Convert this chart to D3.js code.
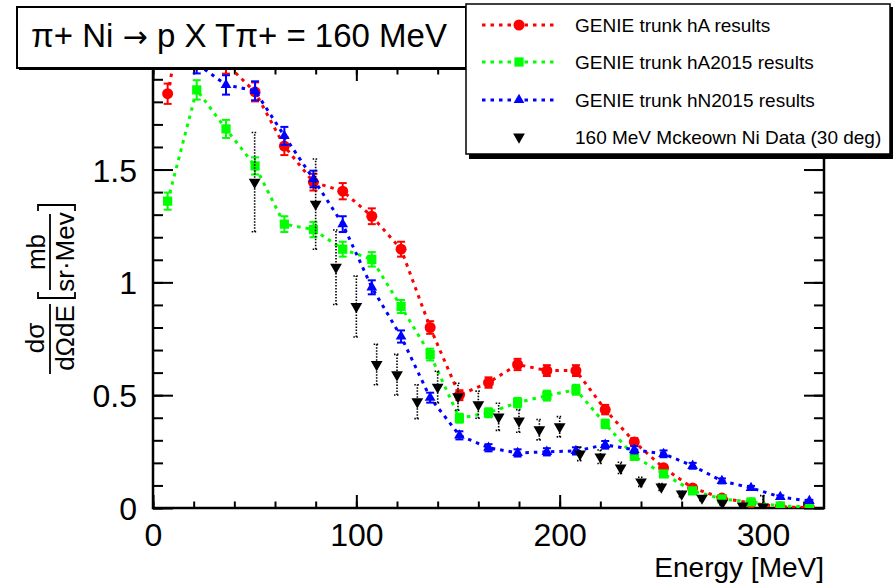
<!DOCTYPE html>
<html>
<head>
<meta charset="utf-8">
<script src="https://cdn.jsdelivr.net/npm/d3@7"></script>
<style>
body { margin: 0; background: #fff; }
text { font-family: "Liberation Sans", Arial, Helvetica, sans-serif; fill: #000; }
</style>
</head>
<body>
<svg id="chart" width="893" height="587"></svg>
<script>
// bin centres of the GENIE histograms (MeV)
var energies = [7.2, 21.5, 35.9, 50.2, 64.6, 78.9, 93.3, 107.6, 122.0, 136.3, 150.7, 165.0,
	179.3, 193.7, 208.0, 222.4, 236.7, 251.1, 265.4, 279.8, 294.1, 308.5, 322.8];

// GENIE trunk hA
var hA = [1.836, 2.5, 1.97, 1.844, 1.604, 1.444, 1.404, 1.293, 1.147, 0.80, 0.50, 0.556,
	0.636, 0.609, 0.609, 0.436, 0.293, 0.178, 0.089, 0.044, 0.022, 0.005, 0.002];
var hAErr = [0.045, 0.05, 0.045, 0.042, 0.04, 0.037, 0.036, 0.035, 0.033, 0.028, 0.022, 0.023,
	0.025, 0.024, 0.024, 0.021, 0.017, 0.013, 0.01, 0.007, 0.005, 0.003, 0.002];

// GENIE trunk hA2015
var hA2015 = [1.36, 1.853, 1.68, 1.516, 1.258, 1.234, 1.147, 1.102, 0.893, 0.68, 0.398, 0.422,
	0.467, 0.498, 0.524, 0.373, 0.229, 0.151, 0.076, 0.04, 0.027, 0.009, 0.005];
var hA2015Err = [0.038, 0.043, 0.04, 0.038, 0.035, 0.034, 0.033, 0.032, 0.029, 0.026, 0.02, 0.02,
	0.021, 0.022, 0.022, 0.019, 0.015, 0.012, 0.009, 0.006, 0.005, 0.003, 0.002];

// GENIE trunk hN2015
var hN2015 = [2.1, 1.97, 1.875, 1.849, 1.649, 1.458, 1.258, 0.978, 0.76, 0.489, 0.322, 0.267,
	0.244, 0.249, 0.253, 0.28, 0.258, 0.24, 0.187, 0.12, 0.089, 0.049, 0.031];
var hN2015Err = [0.045, 0.044, 0.043, 0.042, 0.04, 0.037, 0.035, 0.031, 0.027, 0.022, 0.018, 0.016,
	0.016, 0.016, 0.016, 0.017, 0.016, 0.015, 0.013, 0.011, 0.009, 0.007, 0.005];

// 160 MeV McKeown Ni data, 30 deg
var dataEnergies = [50, 80, 90, 100, 110, 120, 130, 140, 150, 160, 170, 180, 190, 200,
	210, 220, 230, 240, 250, 260, 270, 280, 290, 300];
var dataValues = [1.444, 1.347, 1.067, 0.893, 0.636, 0.591, 0.471, 0.536, 0.493, 0.458, 0.404, 0.386,
	0.347, 0.36, 0.24, 0.227, 0.178, 0.116, 0.093, 0.062, 0.044, 0.022, 0.009, 0.005];
var dataErr = [0.22, 0.2, 0.165, 0.135, 0.09, 0.09, 0.075, 0.07, 0.06, 0.06, 0.06, 0.05,
	0.045, 0.045, 0.03, 0.03, 0.025, 0.02, 0.015, 0.012, 0.01, 0.008, 0.006, 0.05];

var xTicks = [0, 100, 200, 300];
var yTicks = [0, 0.5, 1, 1.5];

var legendLabels = ["GENIE trunk hA results", "GENIE trunk hA2015 results",
	"GENIE trunk hN2015 results", "160 MeV Mckeown Ni Data (30 deg)"];

var svg = d3.select("#chart");

var padL = 153, padR = 824, padT = 68, padB = 508;
var x = d3.scaleLinear().domain([0, 330]).range([padL, padR]);
var y = d3.scaleLinear().domain([0, 1.95]).range([padB, padT]);

// clip for the data
svg.append("defs").append("clipPath").attr("id", "plotclip")
	.append("rect")
	.attr("x", padL).attr("y", padT)
	.attr("width", padR - padL).attr("height", padB - padT);

// axes, ticks on all four sides
function styleAxis(g) {
	g.select(".domain").remove();
	g.selectAll(".tick line").attr("stroke", "#000").attr("stroke-width", 2);
}
var xMinor = d3.range(0, 331, 20);
var yMinor = d3.range(0, 20, 1).map(function(d) { return d / 10; });

svg.append("g").attr("transform", "translate(0," + padB + ")")
	.call(d3.axisBottom(x).tickValues(xMinor).tickSize(-6.5).tickFormat(""))
	.call(styleAxis);
svg.append("g").attr("transform", "translate(0," + padB + ")")
	.call(d3.axisBottom(x).tickValues(xTicks).tickSize(-13).tickPadding(15).tickFormat(d3.format("d")))
	.call(styleAxis)
	.selectAll("text").attr("font-size", 32).attr("font-family", "Liberation Sans, Arial, sans-serif");
svg.append("g").attr("transform", "translate(0," + padT + ")")
	.call(d3.axisTop(x).tickValues(xMinor).tickSize(-6.5).tickFormat(""))
	.call(styleAxis);
svg.append("g").attr("transform", "translate(0," + padT + ")")
	.call(d3.axisTop(x).tickValues(xTicks).tickSize(-13).tickFormat(""))
	.call(styleAxis);

svg.append("g").attr("transform", "translate(" + padL + ",0)")
	.call(d3.axisLeft(y).tickValues(yMinor).tickSize(-10).tickFormat(""))
	.call(styleAxis);
svg.append("g").attr("transform", "translate(" + padL + ",0)")
	.call(d3.axisLeft(y).tickValues(yTicks).tickSize(-20).tickPadding(16).tickFormat(function(d) { return String(d); }))
	.call(styleAxis)
	.selectAll("text").attr("font-size", 32).attr("font-family", "Liberation Sans, Arial, sans-serif")
	.attr("dy", "0.36em");
svg.append("g").attr("transform", "translate(" + padR + ",0)")
	.call(d3.axisRight(y).tickValues(yMinor).tickSize(-10).tickFormat(""))
	.call(styleAxis);
svg.append("g").attr("transform", "translate(" + padR + ",0)")
	.call(d3.axisRight(y).tickValues(yTicks).tickSize(-20).tickFormat(""))
	.call(styleAxis);

svg.append("rect")
	.attr("x", padL).attr("y", padT)
	.attr("width", padR - padL).attr("height", padB - padT)
	.attr("fill", "none").attr("stroke", "#000").attr("stroke-width", 2.5);

// axis titles
svg.append("text")
	.attr("x", padR).attr("y", 577)
	.attr("text-anchor", "end").attr("font-size", 28)
	.text("Energy [MeV]");

function rotText(t, cy, bx, size) {
	svg.append("text")
		.attr("transform", "translate(" + bx + "," + cy + ") rotate(-90)")
		.attr("text-anchor", "middle").attr("font-size", size)
		.text(t);
}
rotText("d\u03c3", 338, 44, 26);
rotText("d\u03a9dE", 338, 74, 26);
rotText("mb", 252, 45, 26);
rotText("sr\u00b7Mev", 252, 74, 26);
svg.append("line").attr("x1", 50).attr("x2", 50).attr("y1", 304).attr("y2", 374)
	.attr("stroke", "#000").attr("stroke-width", 1.8);
svg.append("line").attr("x1", 50).attr("x2", 50).attr("y1", 214).attr("y2", 290)
	.attr("stroke", "#000").attr("stroke-width", 1.8);
svg.append("path").attr("d", "M38,292 L38,298 L75,298 L75,292")
	.attr("fill", "none").attr("stroke", "#000").attr("stroke-width", 1.8);
svg.append("path").attr("d", "M38,211 L38,205 L75,205 L75,211")
	.attr("fill", "none").attr("stroke", "#000").attr("stroke-width", 1.8);

// model curves
var series = [
	{ values: hA, err: hAErr, color: "#ff0000", symbol: d3.symbolCircle, size: 95 },
	{ values: hA2015, err: hA2015Err, color: "#00ff00", symbol: d3.symbolSquare, size: 85 },
	{ values: hN2015, err: hN2015Err, color: "#0000ff", symbol: d3.symbolTriangle, size: 50 }
];

var plot = svg.append("g").attr("clip-path", "url(#plotclip)");

var line = d3.line()
	.x(function(d) { return x(d[0]); })
	.y(function(d) { return y(d[1]); });

series.forEach(function(s) {
	var pts = energies.map(function(e, i) { return [e, s.values[i], s.err[i]]; });
	var g = plot.append("g");
	g.append("path")
		.attr("d", line(pts))
		.attr("fill", "none")
		.attr("stroke", s.color)
		.attr("stroke-width", 3)
		.attr("stroke-dasharray", "3.5,5");
	// error bars with caps
	pts.forEach(function(p) {
		var cx = x(p[0]);
		g.append("line").attr("x1", cx).attr("x2", cx)
			.attr("y1", y(p[1] - p[2])).attr("y2", y(p[1] + p[2]))
			.attr("stroke", s.color).attr("stroke-width", 2);
		[p[1] - p[2], p[1] + p[2]].forEach(function(v) {
			g.append("line").attr("x1", cx - 4).attr("x2", cx + 4)
				.attr("y1", y(v)).attr("y2", y(v))
				.attr("stroke", s.color).attr("stroke-width", 2);
		});
	});
	g.selectAll("path.mk")
		.data(pts.filter(function(p) { return p[1] <= 1.95; }))
		.enter().append("path")
		.attr("class", "mk")
		.attr("transform", function(d) { return "translate(" + x(d[0]) + "," + y(d[1]) + ")"; })
		.attr("d", d3.symbol().type(s.symbol).size(s.size))
		.attr("fill", s.color);
});

// data points
var dg = plot.append("g");
dataEnergies.forEach(function(e, i) {
	var cx = x(e), v = dataValues[i], er = dataErr[i];
	dg.append("line").attr("x1", cx).attr("x2", cx)
		.attr("y1", y(v - er)).attr("y2", y(v + er))
		.attr("stroke", "#000").attr("stroke-width", 1.6)
		.attr("stroke-dasharray", "1.5,1.5");
	[v - er, v + er].forEach(function(w) {
		dg.append("line").attr("x1", cx - 3).attr("x2", cx + 3)
			.attr("y1", y(w)).attr("y2", y(w))
			.attr("stroke", "#000").attr("stroke-width", 1.6)
			.attr("stroke-dasharray", "1.5,1.5");
	});
	dg.append("path")
		.attr("transform", "translate(" + cx + "," + y(v) + ") rotate(180)")
		.attr("d", d3.symbol().type(d3.symbolTriangle).size(60))
		.attr("fill", "#000");
});

// title box
svg.append("rect").attr("x", 19).attr("y", 9).attr("width", 449).attr("height", 61).attr("fill", "#000");
svg.append("rect").attr("x", 17).attr("y", 7).attr("width", 449).attr("height", 61)
	.attr("fill", "#fff").attr("stroke", "#000").attr("stroke-width", 2);
var title = svg.append("text")
	.attr("x", 239).attr("y", 47)
	.attr("text-anchor", "middle").attr("font-size", 33);
title.append("tspan").text("\u03c0+ Ni ");
title.append("tspan").attr("font-family", "DejaVu Sans").attr("font-size", 30).text("\u2192");
title.append("tspan").text(" p X T\u03c0+ = 160 MeV");

// legend
svg.append("rect").attr("x", 469).attr("y", 7).attr("width", 424).attr("height", 152).attr("fill", "#000");
svg.append("rect").attr("x", 466).attr("y", 4).attr("width", 424).attr("height", 150)
	.attr("fill", "#fff").attr("stroke", "#000").attr("stroke-width", 1.5);

var legendY = [25, 62, 100, 137];
series.forEach(function(s, i) {
	svg.append("line").attr("x1", 482).attr("x2", 556)
		.attr("y1", legendY[i]).attr("y2", legendY[i])
		.attr("stroke", s.color).attr("stroke-width", 3).attr("stroke-dasharray", "3.5,5");
	svg.append("path")
		.attr("transform", "translate(519," + legendY[i] + ")")
		.attr("d", d3.symbol().type(s.symbol).size(s.size))
		.attr("fill", s.color);
});
svg.append("path")
	.attr("transform", "translate(519," + legendY[3] + ") rotate(180)")
	.attr("d", d3.symbol().type(d3.symbolTriangle).size(60))
	.attr("fill", "#000");

legendLabels.forEach(function(t, i) {
	svg.append("text")
		.attr("x", 575).attr("y", legendY[i] + 7)
		.attr("font-size", 19)
		.text(t);
});
</script>
</body>
</html>
